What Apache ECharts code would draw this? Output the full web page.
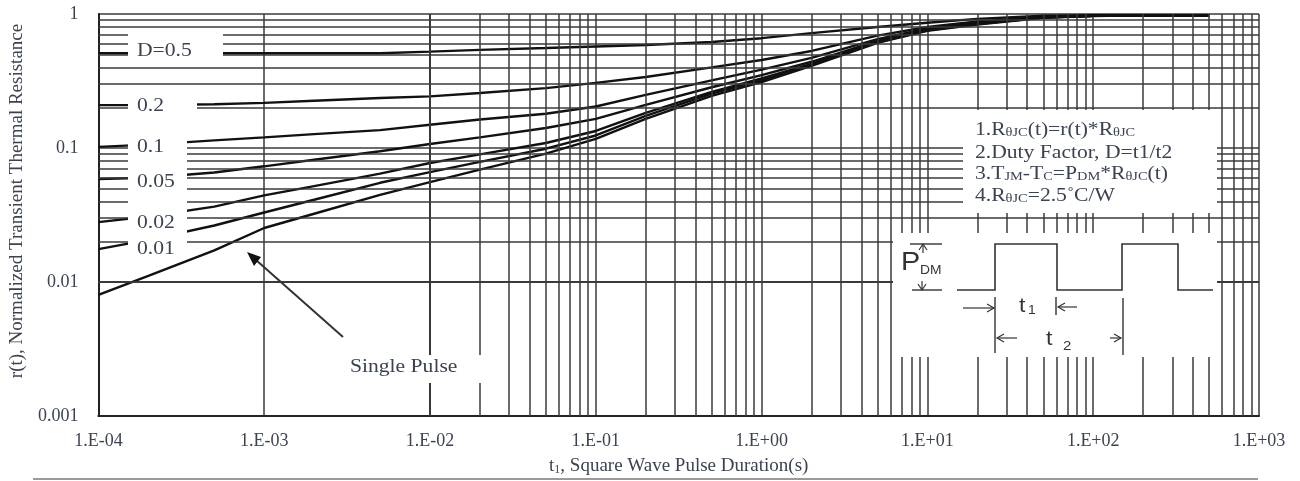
<!DOCTYPE html>
<html><head><meta charset="utf-8">
<script src="https://cdn.jsdelivr.net/npm/echarts@6/dist/echarts.min.js"></script>
<style>html,body{margin:0;padding:0;background:#fff}#c{width:1300px;height:481px}</style>
</head><body><div id="c"></div>
<script>
// ---- data ----
const xTickLabels = ['1.E-04','1.E-03','1.E-02','1.E-01','1.E+00','1.E+01','1.E+02','1.E+03'];
const yTickLabels = ['0.001','0.01','0.1','1'];
const pulseDurations = [1e-4,2e-4,5e-4,1e-3,2e-3,5e-3,1e-2,2e-2,5e-2,0.1,0.2,0.5,1,2,5,10,20,50,100,200,500];
const dutyD050 = [0.51,0.51,0.51,0.51,0.51,0.51,0.524,0.54,0.557,0.572,0.587,0.618,0.66,0.72,0.80,0.86,0.92,0.97,0.98,0.98,0.98];
const dutyD020 = [0.209,0.209,0.212,0.217,0.225,0.236,0.243,0.257,0.28,0.306,0.339,0.40,0.454,0.53,0.69,0.80,0.88,0.95,0.97,0.98,0.98];
const dutyD010 = [0.102,0.106,0.114,0.12,0.127,0.136,0.149,0.163,0.18,0.204,0.249,0.32,0.385,0.47,0.65,0.78,0.86,0.95,0.97,0.98,0.98];
const dutyD005 = [0.0587,0.060,0.0657,0.073,0.0818,0.0945,0.107,0.12,0.141,0.165,0.21,0.284,0.35,0.44,0.63,0.765,0.85,0.945,0.97,0.98,0.98];
const dutyD002 = [0.028,0.0308,0.0365,0.0443,0.052,0.0644,0.0773,0.0897,0.109,0.134,0.183,0.262,0.33,0.425,0.62,0.76,0.845,0.94,0.97,0.98,0.98];
const dutyD001 = [0.0176,0.0206,0.0264,0.033,0.0411,0.055,0.066,0.0787,0.0988,0.124,0.174,0.255,0.32,0.415,0.615,0.755,0.84,0.94,0.97,0.98,0.98];
const singlePulse = [0.008,0.0111,0.0172,0.0253,0.0323,0.0447,0.0557,0.0689,0.0908,0.117,0.165,0.245,0.31,0.41,0.61,0.75,0.835,0.935,0.965,0.98,0.98];
const curveNames = ['D=0.5','0.2','0.1','0.05','0.02','0.01','Single Pulse'];
const curveValues = [dutyD050,dutyD020,dutyD010,dutyD005,dutyD002,dutyD001,singlePulse];

// minor log grid positions
const minorX = [], minorY = [];
for (let e = -4; e <= 2; e++) for (let k = 2; k <= 9; k++) minorX.push(+(k * Math.pow(10, e)).toPrecision(3));
for (let e = -3; e <= -1; e++) for (let k = 2; k <= 9; k++) minorY.push(+(k * Math.pow(10, e)).toPrecision(3));

const SERIF = 'Liberation Serif';
const SANS = 'Liberation Sans';
const TXT = '#3b4352';
const GRID = '#3a3a3a';
const INK = '#333';

const chart = echarts.init(document.getElementById('c'), null, {renderer: 'canvas'});

const gridLines = minorX.map(v => ({xAxis: v})).concat(minorY.map(v => ({yAxis: v})));

const series = [{
  type: 'line', data: [], z: 1, silent: true,
  markLine: {
    silent: true, symbol: ['none','none'], animation: false,
    label: {show: false},
    lineStyle: {type: 'solid', color: GRID, width: 1.5, opacity: 1},
    emphasis: {disabled: true},
    data: gridLines
  }
}];
curveNames.forEach((n, i) => {
  series.push({
    name: n, type: 'line', z: 3, showSymbol: false, symbol: 'none', silent: true,
    lineStyle: {color: '#111', width: 2.4},
    data: pulseDurations.map((t, j) => [t, curveValues[i][j]])
  });
});

function T(x, y, text, size, extra) {
  return Object.assign({
    type: 'text', x: x, y: y, z: 20, scaleX: 1.2, silent: true,
    style: {text: text, fontSize: size, fontFamily: SERIF, fill: TXT, align: 'left', verticalAlign: 'middle'}
  }, extra || {});
}
function R(x, y, w, h) {
  return {type: 'rect', z: 15, silent: true, shape: {x: x, y: y, width: w, height: h}, style: {fill: '#fff'}};
}
function L(pts, w) {
  return {type: 'polyline', z: 21, silent: true, shape: {points: pts}, style: {stroke: INK, lineWidth: w || 1.4, fill: null}};
}
const rich = {
  n: {fontSize: 18, fontFamily: SERIF, fill: TXT},
  s: {fontSize: 12, fontFamily: SERIF, fill: TXT, verticalAlign: 'bottom'}
};
function RT(x, y, text) {
  return {type: 'text', x: x, y: y, z: 20, scaleX: 1.2, silent: true,
    style: {text: text, rich: rich, fontSize: 18, fontFamily: SERIF, fill: TXT, align: 'left', verticalAlign: 'middle'}};
}

const graphic = [
  // label boxes
  R(128, 33, 95, 33),
  R(128, 92, 69, 28),
  R(128, 120, 59, 137),
  R(963, 110, 254, 103),
  R(893, 233, 324, 124),
  R(343, 355, 155, 28),
  // D labels
  T(137, 51, 'D=0.5', 18),
  T(137, 106, '0.2', 18),
  T(137, 147, '0.1', 18),
  T(137, 182, '0.05', 18),
  T(137, 223, '0.02', 18),
  T(137, 249, '0.01', 18),
  T(350, 367, 'Single Pulse', 18),
  // notes
  RT(975, 130, '{n|1.R}{s|θJC}{n|(t)=r(t)*R}{s|θJC}'),
  RT(975, 153, '{n|2.Duty Factor, D=t1/t2}'),
  RT(975, 174, '{n|3.T}{s|JM}{n|-T}{s|C}{n|=P}{s|DM}{n|*R}{s|θJC}{n|(t)}'),
  RT(975, 196, '{n|4.R}{s|θJC}{n|=2.5˚C/W}'),
  // pulse waveform
  L([[957,290],[995,290],[995,244],[1057,244],[1057,290],[1122,290],[1122,244],[1178,244],[1178,290],[1213,290]], 1.6),
  // PDM markers
  L([[910,244],[942,244]], 1.4),
  L([[912,290],[942,290]], 1.4),
  L([[923,244],[923,253]], 1.2),
  L([[919,250],[923,244],[927,250]], 1.2),
  L([[922,281],[922,290]], 1.2),
  L([[918,284],[922,290],[926,284]], 1.2),
  {type: 'text', x: 901, y: 263, z: 20, scaleX: 1.15, silent: true, style: {text: 'P', fontSize: 25, fontFamily: SANS, fill: INK, align: 'left', verticalAlign: 'middle'}},
  {type: 'text', x: 920, y: 271, z: 20, scaleX: 1.15, silent: true, style: {text: 'DM', fontSize: 12, fontFamily: SANS, fill: INK, align: 'left', verticalAlign: 'middle'}},
  // t1
  L([[995,297],[995,353]], 1.4),
  L([[1056,297],[1056,315]], 1.4),
  L([[963,308],[994,308]], 1.2),
  L([[987,304],[994,308],[987,312]], 1.2),
  L([[1077,307],[1058,307]], 1.2),
  L([[1065,303],[1058,307],[1065,311]], 1.2),
  {type: 'text', x: 1019, y: 306, z: 20, scaleX: 1.15, silent: true, style: {text: 't', fontSize: 20, fontFamily: SANS, fill: INK, align: 'left', verticalAlign: 'middle'}},
  {type: 'text', x: 1028, y: 311, z: 20, scaleX: 1.15, silent: true, style: {text: '1', fontSize: 12, fontFamily: SANS, fill: INK, align: 'left', verticalAlign: 'middle'}},
  // t2
  L([[1123,298],[1123,355]], 1.4),
  L([[1017,338],[997,338]], 1.2),
  L([[1004,334],[997,338],[1004,342]], 1.2),
  L([[1110,338],[1121,338]], 1.2),
  L([[1114,334],[1121,338],[1114,342]], 1.2),
  {type: 'text', x: 1046, y: 339, z: 20, scaleX: 1.15, silent: true, style: {text: 't', fontSize: 20, fontFamily: SANS, fill: INK, align: 'left', verticalAlign: 'middle'}},
  {type: 'text', x: 1063, y: 346, z: 20, scaleX: 1.15, silent: true, style: {text: '2', fontSize: 13, fontFamily: SANS, fill: INK, align: 'left', verticalAlign: 'middle'}},
  // single pulse arrow
  L([[343,337],[256,260]], 2),
  {type: 'polygon', z: 21, silent: true, shape: {points: [[247,252],[261,257],[254,266]]}, style: {fill: '#111'}},
  // bottom rule
  {type: 'line', z: 5, silent: true, shape: {x1: 33, y1: 479, x2: 1258, y2: 479}, style: {stroke: '#9a9a9a', lineWidth: 2}}
];

const option = {
  animation: false,
  backgroundColor: '#fff',
  grid: {left: 97, right: 41, top: 14, bottom: 64, containLabel: false},
  xAxis: {
    type: 'log', logBase: 10, min: 1e-4, max: 1000, splitNumber: 7,
    name: '{a|t}{s|1}{a|, Square Wave Pulse Duration(s)}',
    nameLocation: 'middle', nameGap: 41,
    nameTextStyle: {rich: {a: {fontSize: 19, fontFamily: SERIF, color: TXT}, s: {fontSize: 12, fontFamily: SERIF, color: TXT, verticalAlign: 'bottom'}}},
    axisLine: {show: true, onZero: false, lineStyle: {color: '#222', width: 2}},
    axisTick: {show: false},
    axisLabel: {margin: 16, fontSize: 18, fontFamily: SERIF, color: TXT,
      formatter: v => xTickLabels[Math.round(Math.log10(v)) + 4] || ''},
    splitLine: {show: true, lineStyle: {color: GRID, width: 1.5}}
  },
  yAxis: {
    type: 'log', logBase: 10, min: 0.001, max: 1, splitNumber: 3,
    name: 'r(t), Normalized Transient Thermal Resistance',
    nameLocation: 'middle', nameGap: 66,
    nameTextStyle: {fontSize: 19, fontFamily: SERIF, color: TXT, padding: [0, 0, 0, 28]},
    axisLine: {show: true, onZero: false, lineStyle: {color: '#222', width: 2}},
    axisTick: {show: false},
    axisLabel: {margin: 20, fontSize: 18, fontFamily: SERIF, color: TXT,
      formatter: v => yTickLabels[Math.round(Math.log10(v)) + 3] || ''},
    splitLine: {show: true, lineStyle: {color: GRID, width: 1.5}}
  },
  series: series,
  graphic: graphic
};
chart.setOption(option);
</script></body></html>
